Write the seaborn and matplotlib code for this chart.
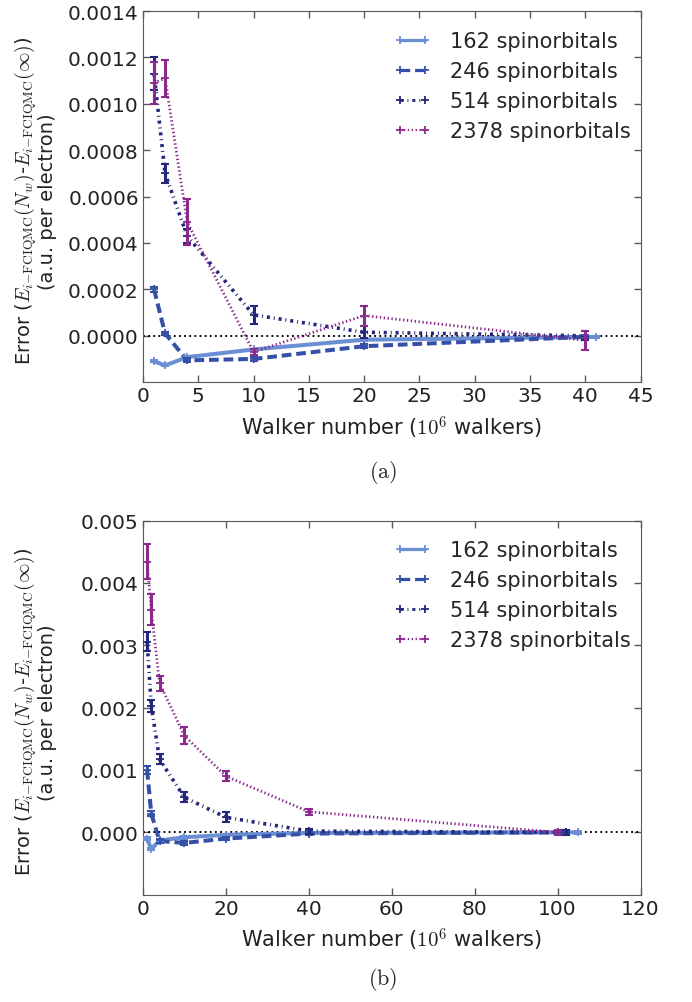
import numpy as np
import pandas as pd
import matplotlib
matplotlib.use("Agg")
import matplotlib.pyplot as plt
from matplotlib.lines import Line2D
import seaborn as sns

# --- data ---
labels = ["162 spinorbitals", "246 spinorbitals", "514 spinorbitals", "2378 spinorbitals"]

# panel (a)
x_a = [[1, 2, 4, 10, 20, 41],
       [1, 2, 4, 10, 20, 40],
       [1, 2, 4, 10, 20, 40],
       [1, 2, 4, 10, 20, 40]]
y_a = [[-0.00011, -0.000128, -0.000092, -0.000059, -0.000017, -0.000005],
       [0.0002, 0.00001, -0.000106, -0.0001, -0.000045, -0.000005],
       [0.00113, 0.0007, 0.00043, 0.00009, 0.000015, 0.0],
       [0.00109, 0.00111, 0.00049, -0.00007, 0.000087, -0.00002]]
e_a = [[0.000004, 0.000004, 0.000004, 0.000004, 0.000004, 0.000004],
       [0.00001, 0.000008, 0.000008, 0.000008, 0.000008, 0.000008],
       [0.00007, 0.00004, 0.00003, 0.00004, 0.000025, 0.00002],
       [0.00009, 0.00008, 0.0001, 0.000015, 0.000043, 0.00004]]
xticks_a = [0, 5, 10, 15, 20, 25, 30, 35, 40, 45]

# panel (b)
x_b = [[1, 2, 4, 10, 20, 40, 105],
       [1, 2, 4, 10, 20, 40, 102],
       [1, 2, 4, 10, 20, 40, 102],
       [1, 2, 4, 10, 20, 40, 100]]
y_b = [[-0.0001, -0.00027, -0.00013, -0.00008, -0.00004, -0.00001, 0.0],
       [0.001, 0.0003, -0.00014, -0.00017, -0.0001, -0.00002, 0.0],
       [0.00306, 0.00203, 0.00117, 0.00056, 0.00024, 0.00002, 0.0],
       [0.00434, 0.00357, 0.00239, 0.00155, 0.0009, 0.00033, 0.0]]
e_b = [[0.00002, 0.00002, 0.00002, 0.00002, 0.00002, 0.00002, 0.00002],
       [0.00006, 0.00004, 0.00003, 0.00003, 0.00003, 0.00002, 0.00002],
       [0.00015, 0.0001, 0.00008, 0.00008, 0.00008, 0.00004, 0.00004],
       [0.00028, 0.00025, 0.00012, 0.00014, 0.00008, 0.00005, 0.00004]]
xticks_b = [0, 20, 40, 60, 80, 100, 120]

colors = ["#6b8fd4", "#3650a8", "#25287a", "#8b2a8c"]
styles = ["-", (0, (7, 3.5)), (0, (2.2, 2.8, 0.7, 2.8)), (0, (1, 1.8))]
widths = [2.9, 2.9, 2.6, 2.0]

sns.set_style("ticks")
plt.rcParams["font.family"] = ["DejaVu Sans"]
plt.rcParams["mathtext.fontset"] = "cm"
plt.rcParams["axes.edgecolor"] = "0.35"
plt.rcParams["xtick.direction"] = "in"
plt.rcParams["ytick.direction"] = "in"
plt.rcParams["lines.scale_dashes"] = False

fig = plt.figure(figsize=(6.92, 10.03), dpi=100)
ax_a = fig.add_axes([0.2066, 0.618, 0.719, 0.370])
ax_b = fig.add_axes([0.2066, 0.107, 0.719, 0.373])

ylab = ("Error ($E_{i\\mathrm{-FCIQMC}}(N_w)$-$E_{i\\mathrm{-FCIQMC}}(\\infty)$)\n"
        "(a.u. per electron)")


def panel(ax, xs, ys, es, xlim, ylim, yfmt, xticks, yticks):
    ax.axhline(0, color="black", linestyle=(0, (1.3, 2.4)), lw=1.4, zorder=1)
    handles = []
    for i in range(4):
        df = pd.DataFrame({"x": xs[i], "y": ys[i]})
        sns.lineplot(data=df, x="x", y="y", ax=ax, color=colors[i],
                     linestyle=styles[i], lw=widths[i], marker="+",
                     markersize=6, mew=1.3, mec=colors[i], zorder=3)
        ax.errorbar(xs[i], ys[i], yerr=es[i], fmt="none", ecolor=colors[i],
                    elinewidth=2.2, capsize=3, capthick=1.5, zorder=4)
        handles.append(Line2D([], [], color=colors[i], linestyle=styles[i],
                              lw=widths[i] * 0.8, marker="+", markersize=6,
                              mew=1.3, mec=colors[i], label=labels[i]))
    ax.set_xlim(*xlim)
    ax.set_ylim(*ylim)
    ax.set_xticks(xticks)
    ax.set_yticks(yticks)
    ax.yaxis.set_major_formatter(matplotlib.ticker.FormatStrFormatter(yfmt))
    ax.tick_params(top=True, right=True, labelsize=14.5, length=5, width=1,
                   pad=3, colors="0.35", labelcolor="#222222")
    ax.set_xlabel("Walker number ($10^6$ walkers)", fontsize=15, color="#222222",
                  labelpad=6)
    ax.set_ylabel(ylab, fontsize=14, color="#222222", linespacing=0.95)
    ax.yaxis.set_label_coords(-0.172, 0.49)
    ax.legend(handles=handles, loc="upper right", bbox_to_anchor=(1.0, 0.972),
              frameon=False, fontsize=15, numpoints=2, handlelength=1.8,
              handletextpad=0.9, labelspacing=0.48, borderaxespad=0.05)


panel(ax_a, x_a, y_a, e_a, (0, 45), (-0.0002, 0.0014), "%.4f",
      xticks_a, np.arange(0, 0.00141, 0.0002))
panel(ax_b, x_b, y_b, e_b, (0, 120), (-0.001, 0.005), "%.3f",
      xticks_b, np.arange(0, 0.0051, 0.001))

fig.text(0.553, 0.529, "$\\mathrm{(a)}$", ha="center", va="center", fontsize=16)
fig.text(0.553, 0.023, "$\\mathrm{(b)}$", ha="center", va="center", fontsize=16)

fig.savefig("out.png", dpi=100)
